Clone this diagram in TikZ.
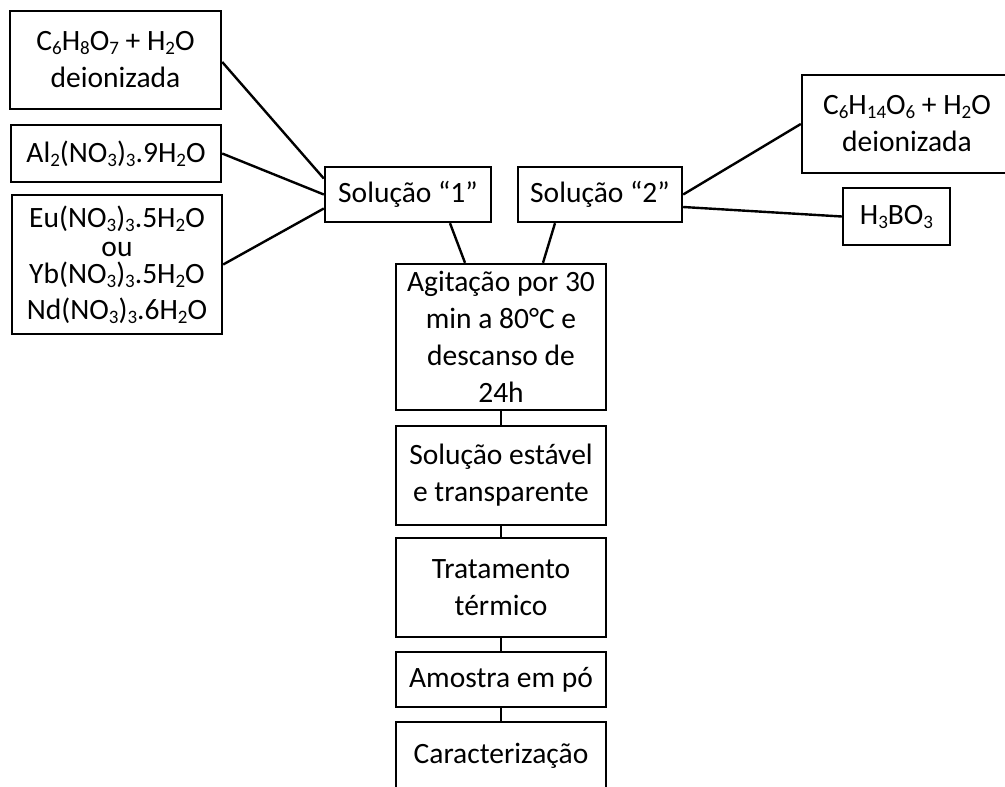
\documentclass[tikz,border=0pt]{standalone}
\usepackage{fontspec}
\setmainfont{Carlito}
\newcommand{\ind}[1]{\raisebox{-4pt}{\fontsize{19}{19}\selectfont #1}}

\begin{document}
\begin{tikzpicture}[x=1pt,y=-1pt,
  caixa/.style={draw,line width=2.4pt,inner sep=0pt,align=center,font=\fontsize{29.5}{37}\selectfont},
  liga/.style={line width=2.4pt}]
\useasboundingbox (0,0) rectangle (1005,787);
\clip (0,0) rectangle (1005,787);
\node[caixa,minimum width=211,minimum height=98] (acido) at (115.5,60) {C\ind{6}H\ind{8}O\ind{7} + H\ind{2}O\\deionizada};
\node[caixa,minimum width=210,minimum height=57] (aluminio) at (116,153.5) {Al\ind{2}(NO\ind{3})\ind{3}.9H\ind{2}O};
\node[caixa,minimum width=210,minimum height=139] (terras) at (117,264.5) {Eu(NO\ind{3})\ind{3}.5H\ind{2}O\\[-8pt]ou\\[-10pt]Yb(NO\ind{3})\ind{3}.5H\ind{2}O\\[-1pt]Nd(NO\ind{3})\ind{3}.6H\ind{2}O};
\node[caixa,minimum width=166,minimum height=55] (sol1) at (408,194.5) {Solução “1”};
\node[caixa,minimum width=164,minimum height=55] (sol2) at (600,194.5) {Solução “2”};
\node[caixa,minimum width=210,minimum height=98] (sorbitol) at (907,124) {C\ind{6}H\ind{14}O\ind{6} + H\ind{2}O\\deionizada};
\node[caixa,minimum width=107,minimum height=57] (borico) at (896.5,216.5) {H\ind{3}BO\ind{3}};
\node[caixa,minimum width=210,minimum height=146] (agitacao) at (501,337) {Agitação por 30\\min a 80°C e\\descanso de\\24h};
\node[caixa,minimum width=210,minimum height=99] (estavel) at (501,475.5) {Solução estável\\e transparente};
\node[caixa,minimum width=210,minimum height=99] (tratamento) at (501,587.5) {Tratamento\\térmico};
\node[caixa,minimum width=210,minimum height=55] (amostra) at (501,679.5) {Amostra em pó};
\node[caixa,minimum width=210,minimum height=68] (caract) at (501,756) {Caracterização};

\draw[liga] ([yshift=-2pt]acido.east) -- ([yshift=16pt]sol1.west);
\draw[liga] (aluminio.east) -- (sol1.west);
\draw[liga] (terras.east) -- ([yshift=-14pt]sol1.west);
\draw[liga] ([xshift=42pt]sol1.south) -- ([xshift=-36pt]agitacao.north);
\draw[liga] ([xshift=-45pt]sol2.south) -- ([xshift=42pt]agitacao.north);
\draw[liga] (sol2.east) -- (sorbitol.west);
\draw[liga] ([yshift=-12.5pt]sol2.east) -- (borico.west);
\draw[liga] (agitacao) -- (estavel);
\draw[liga] (estavel) -- (tratamento);
\draw[liga] (tratamento) -- (amostra);
\draw[liga] (amostra) -- (caract);
\end{tikzpicture}
\end{document}
